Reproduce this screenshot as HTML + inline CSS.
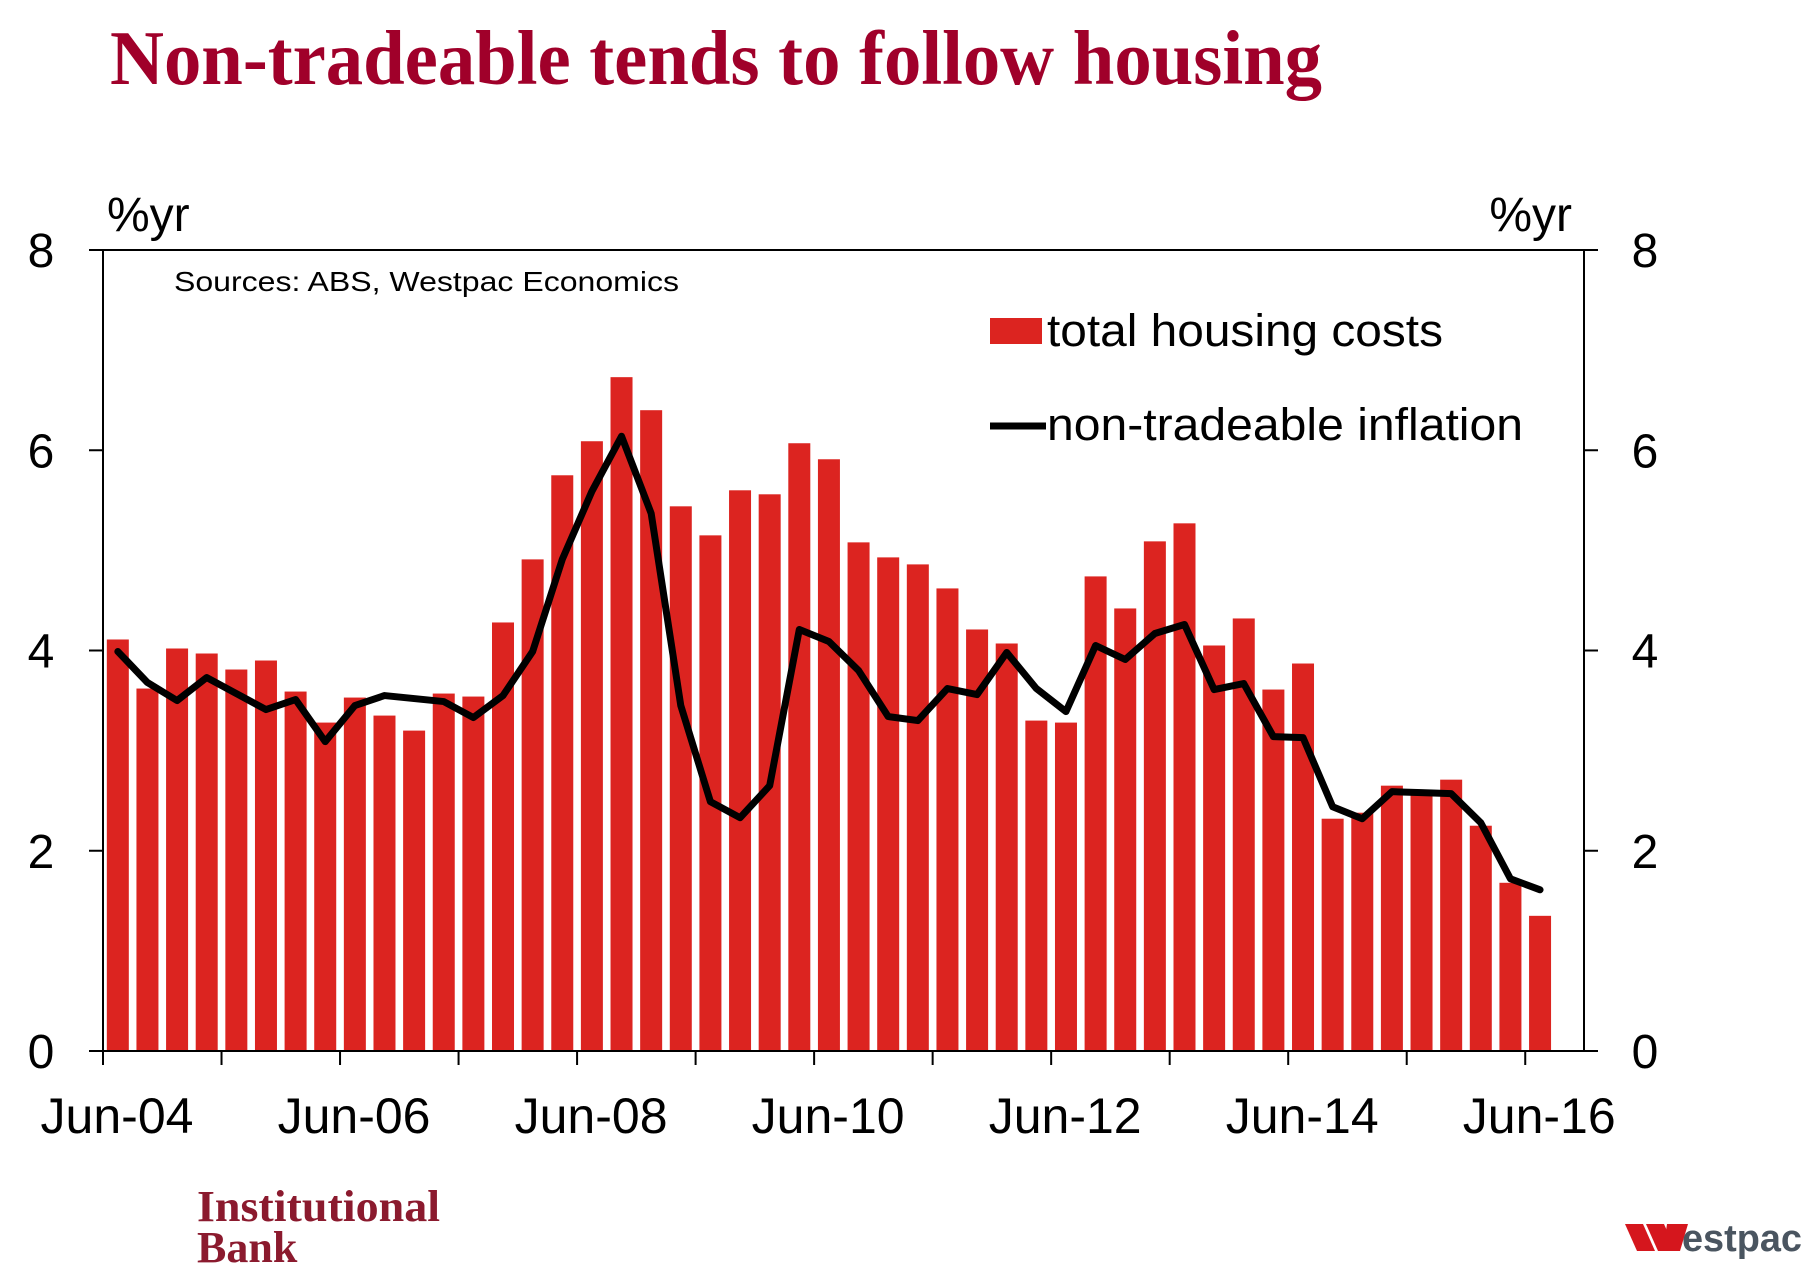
<!DOCTYPE html>
<html><head><meta charset="utf-8"><style>
html,body{margin:0;padding:0;background:#fff;}
svg{display:block;font-family:"Liberation Sans",Arial,sans-serif;}
</style></head><body>
<svg id="chart" width="1812" height="1279" viewBox="0 0 1812 1279" xmlns="http://www.w3.org/2000/svg">
<text x="110" y="84" font-family="Liberation Serif,serif" font-weight="bold" font-size="77" fill="#a0002a" textLength="1212" lengthAdjust="spacingAndGlyphs">Non-tradeable tends to follow housing</text>
<g id="plot"></g>
<text x="107" y="231" font-size="48">%yr</text>
<text x="1572" y="231" font-size="48" text-anchor="end">%yr</text>
<text x="174" y="291" font-size="28" textLength="505" lengthAdjust="spacingAndGlyphs">Sources: ABS, Westpac Economics</text>
<rect x="990" y="318" width="52" height="26" fill="#dc2420"/>
<text x="1047" y="346" font-size="45" textLength="396" lengthAdjust="spacingAndGlyphs">total housing costs</text>
<line x1="990" y1="426" x2="1046" y2="426" stroke="#000" stroke-width="7"/>
<text x="1047" y="440" font-size="45" textLength="476" lengthAdjust="spacingAndGlyphs">non-tradeable inflation</text>
<text x="197" y="1221" font-family="Liberation Serif,serif" font-weight="bold" font-size="44" fill="#8b1a2e" textLength="243" lengthAdjust="spacingAndGlyphs">Institutional</text>
<text x="197" y="1262" font-family="Liberation Serif,serif" font-weight="bold" font-size="44" fill="#8b1a2e">Bank</text>
<g>
<polygon points="1625,1224 1643,1224 1655,1251 1637,1251" fill="#d5161d"/>
<polygon points="1646,1224 1664,1224 1676,1251 1658,1251" fill="#d5161d"/>
<polygon points="1667,1224 1688,1224 1680,1251 1663,1251" fill="#d5161d"/>
<text x="1682" y="1251" font-size="38" font-weight="bold" fill="#4a5560" textLength="120" lengthAdjust="spacingAndGlyphs">estpac</text>
</g>
</svg>
<script>
const housing=[4.11,3.62,4.02,3.97,3.81,3.90,3.59,3.28,3.53,3.35,3.20,3.57,3.54,4.28,4.91,5.75,6.09,6.73,6.40,5.44,5.15,5.60,5.56,6.07,5.91,5.08,4.93,4.86,4.62,4.21,4.07,3.30,3.28,4.74,4.42,5.09,5.27,4.05,4.32,3.61,3.87,2.32,2.38,2.65,2.60,2.71,2.25,1.68,1.35];
const nonTradeable=[3.99,3.68,3.50,3.73,3.57,3.41,3.51,3.09,3.45,3.55,3.52,3.49,3.33,3.55,3.99,4.91,5.59,6.14,5.37,3.45,2.49,2.33,2.65,4.21,4.09,3.80,3.34,3.30,3.62,3.56,3.98,3.62,3.39,4.05,3.91,4.17,4.26,3.61,3.67,3.14,3.13,2.44,2.32,2.59,2.58,2.57,2.28,1.72,1.61];
const xLabels=["Jun-04","Jun-06","Jun-08","Jun-10","Jun-12","Jun-14","Jun-16"];
const yTicks=[0,2,4,6,8];
const NS="http://www.w3.org/2000/svg";
const L=103,R=1584,T=250,B=1051,QW=29.63;
const y=v=>B-(v/8)*(B-T);
const xc=i=>L+(i+0.5)*QW;
const g=document.getElementById('plot');
function mk(tag,attrs){const e=document.createElementNS(NS,tag);for(const k in attrs)e.setAttribute(k,attrs[k]);g.appendChild(e);return e;}
housing.forEach((v,i)=>{
  const r=mk('rect',{x:xc(i)-11,y:y(v),width:22,height:B-y(v),fill:'#dc2420'});
  
  
});
const pl=mk('polyline',{points:nonTradeable.map((v,i)=>xc(i)+','+y(v)).join(' '),fill:'none',stroke:'#000','stroke-width':7,'stroke-linejoin':'round','stroke-linecap':'round'});


const frame=mk('path',{d:`M${L},${T}H${R}V${B}H${L}Z`,fill:'none',stroke:'#000','stroke-width':2});


yTicks.forEach(t=>{
  const a=mk('line',{x1:L-14,x2:L,y1:y(t),y2:y(t),stroke:'#000','stroke-width':2});
  
  
  const b=mk('line',{x1:R,x2:R+14,y1:y(t),y2:y(t),stroke:'#000','stroke-width':2});
  
  
  const tl=mk('text',{x:41,y:y(t)+17,'font-size':48,'text-anchor':'middle'});tl.textContent=t;
  
  
  const tr=mk('text',{x:1645,y:y(t)+17,'font-size':48,'text-anchor':'middle'});tr.textContent=t;
  
  
});
for(let k=0;k<=12;k++){
  const xx=L+k*4*QW;
  const tk=mk('line',{x1:xx,x2:xx,y1:B,y2:B+14,stroke:'#000','stroke-width':2});
  
  
}
xLabels.forEach((s,k)=>{
  const t=mk('text',{x:L+k*8*QW+14,y:1133,'font-size':50,'text-anchor':'middle'});t.textContent=s;
  
  
});
</script>
</body></html>
